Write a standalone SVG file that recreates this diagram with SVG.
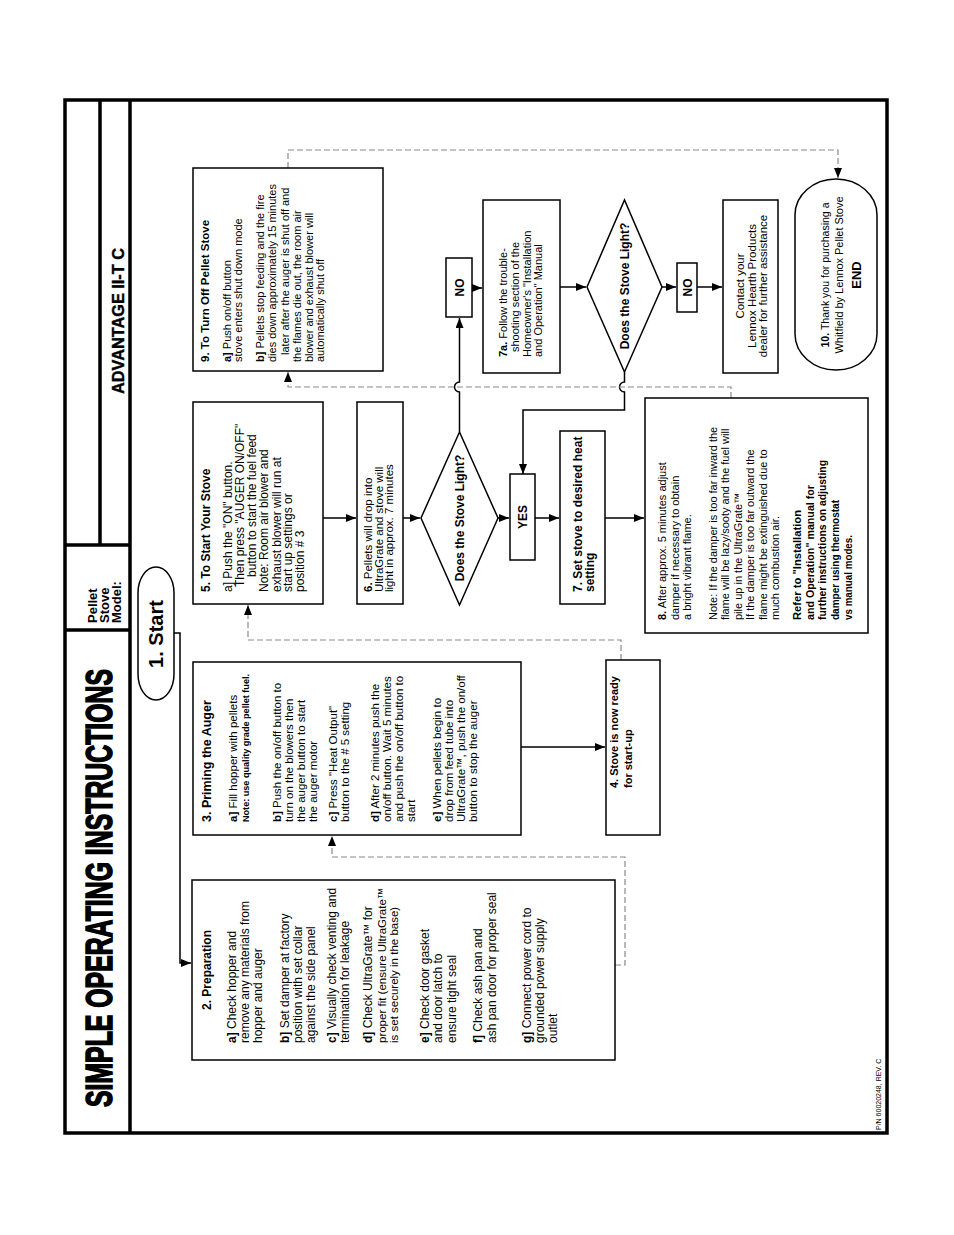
<svg xmlns="http://www.w3.org/2000/svg" width="954" height="1235" viewBox="0 0 954 1235">
<defs>
<marker id="ah" markerUnits="userSpaceOnUse" markerWidth="10" markerHeight="8" refX="10" refY="4" orient="auto">
<path d="M0,0 L10,4 L0,8 z" fill="#000"/>
</marker>
<style>
.box{fill:#fff;stroke:#000;stroke-width:1.5}
.t{font-family:"Liberation Sans",Arial,Helvetica,sans-serif;fill:#000}
.b{font-weight:bold}
.conn{fill:none;stroke:#000;stroke-width:1.5}
.dash{fill:none;stroke:#8a8a8a;stroke-width:1.2;stroke-dasharray:6 3}
.frame{fill:none;stroke:#000;stroke-width:3.5}
.mid{text-anchor:middle}
</style>
</defs>
<rect x="0" y="0" width="954" height="1235" fill="#fff"/>
<g transform="translate(0,1235) rotate(-90)">
  <g id="frame">
    <rect class="frame" x="102" y="65" width="1033" height="822"/>
    <path class="frame" d="M102,130 L1135,130 M690,100 L1135,100 M690,65 L690,130 M605,65 L605,130"/>
    <text class="t b" x="128" y="112" font-size="37" stroke="#000" stroke-width="1.6" textLength="438" lengthAdjust="spacingAndGlyphs">SIMPLE OPERATING INSTRUCTIONS</text>
    <text class="t b" x="612" y="97" font-size="13">Pellet</text>
    <text class="t b" x="612" y="109" font-size="13">Stove</text>
    <text class="t b" x="612" y="121" font-size="13">Model:</text>
    <text class="t b mid" x="914" y="124" font-size="16" stroke="#000" stroke-width="0.4" textLength="146" lengthAdjust="spacingAndGlyphs">ADVANTAGE II-T C</text>
    <text class="t" x="105" y="881" font-size="7">P/N 60020248, REV. C</text>
  </g>

  <g id="connectors">
    <path class="conn" d="M602,174 L602,180 L272,180 L272,191" marker-end="url(#ah)"/>
    <path class="dash" d="M270,615 L270,625 L378,625 L378,332 L399,332" marker-end="url(#ah)"/>
    <path class="conn" d="M488,521 L488,605" marker-end="url(#ah)"/>
    <path class="dash" d="M575,621 L595,621 L595,248 L630,248" marker-end="url(#ah)"/>
    <path class="conn" d="M717,323 L717,356" marker-end="url(#ah)"/>
    <path class="conn" d="M717,403 L717,420" marker-end="url(#ah)"/>
    <path class="conn" d="M717,498 L717,509" marker-end="url(#ah)"/>
    <path class="conn" d="M717,535 L717,559" marker-end="url(#ah)"/>
    <path class="conn" d="M717,605 L717,644" marker-end="url(#ah)"/>
    <path class="conn" d="M803,459.5 L843,459.5 A5,5 0 0 1 853,459.5 L917,459.5" marker-end="url(#ah)"/>
    <path class="conn" d="M947,472 L947,482" marker-end="url(#ah)"/>
    <path class="conn" d="M948,560 L948,586" marker-end="url(#ah)"/>
    <path class="conn" d="M948,662 L948,676" marker-end="url(#ah)"/>
    <path class="conn" d="M948,697 L948,722" marker-end="url(#ah)"/>
    <path class="conn" d="M863,624.5 L853,624.5 A5,5 0 0 0 843,624.5 L825,624.5 L825,523 L761,523" marker-end="url(#ah)"/>
    <path class="dash" d="M837,731 L848,731 L848,288 L863,288" marker-end="url(#ah)"/>
    <path class="dash" d="M1067,288 L1085,288 L1085,838 L1057,838" marker-end="url(#ah)"/>
  </g>

  <g id="start">
    <rect class="box" x="535" y="138" width="133" height="36" rx="26" ry="18"/>
    <text class="t b mid" x="601" y="163" font-size="20">1. Start</text>
  </g>

  <g id="preparation" class="t" font-size="12">
    <rect class="box" x="175" y="192" width="180" height="423"/>
    <text class="b mid" x="265" y="211">2. Preparation</text>
    <text x="192" y="236"><tspan class="b">a]</tspan>  Check hopper and</text>
    <text x="192" y="249">remove any materials from</text>
    <text x="192" y="262">hopper and auger</text>
    <text x="192" y="289"><tspan class="b">b]</tspan> Set damper at factory</text>
    <text x="192" y="302">position with set collar</text>
    <text x="192" y="315">against the side panel</text>
    <text x="192" y="336"><tspan class="b">c]</tspan> Visually check venting and</text>
    <text x="192" y="349">termination  for leakage</text>
    <text x="192" y="372"><tspan class="b">d]</tspan> Check UltraGrate™ for</text>
    <text x="192" y="386" font-size="11.5">proper fit (ensure UltraGrate™</text>
    <text x="192" y="398" font-size="11.5">is set securely in the base)</text>
    <text x="192" y="429"><tspan class="b">e]</tspan> Check door gasket</text>
    <text x="192" y="442">and door latch to</text>
    <text x="192" y="456">ensure  tight seal</text>
    <text x="192" y="482"><tspan class="b">f]</tspan> Check ash pan and</text>
    <text x="192" y="496">ash pan door for proper seal</text>
    <text x="192" y="531"><tspan class="b">g]</tspan> Connect power cord to</text>
    <text x="192" y="544">grounded power supply</text>
    <text x="192" y="557">outlet</text>
  </g>

  <g id="priming" class="t" font-size="11.5">
    <rect class="box" x="400" y="193" width="173" height="328"/>
    <text class="b" x="413" y="211" font-size="12.5">3. Priming the Auger</text>
    <text x="413" y="237"><tspan class="b">a]</tspan> Fill hopper with pellets</text>
    <text class="b" x="413" y="249" font-size="9.5" textLength="148" lengthAdjust="spacingAndGlyphs">Note: use quality grade pellet fuel.</text>
    <text x="413" y="281"><tspan class="b">b]</tspan> Push the on/off button to</text>
    <text x="413" y="293">turn on the blowers then</text>
    <text x="413" y="305">the auger button to start</text>
    <text x="413" y="317">the auger motor</text>
    <text x="413" y="337"><tspan class="b">c]</tspan> Press "Heat Output"</text>
    <text x="413" y="349">button to the # 5 setting</text>
    <text x="413" y="379"><tspan class="b">d]</tspan> After 2 minutes push the</text>
    <text x="413" y="391">on/off button. Wait 5 minutes</text>
    <text x="413" y="403">and push the on/off button to</text>
    <text x="413" y="415">start</text>
    <text x="413" y="441"><tspan class="b">e]</tspan> When pellets begin to</text>
    <text x="413" y="453">drop from feed tube into</text>
    <text x="413" y="465">UltraGrate™,  push the on/off</text>
    <text x="413" y="477">button to stop the auger</text>
  </g>

  <g id="ready" class="t b" font-size="11">
    <rect class="box" x="400" y="606" width="175" height="54"/>
    <text x="447" y="618">4. Stove is now ready</text>
    <text x="447" y="632">for start-up</text>
  </g>

  <g id="start-stove" class="t" font-size="12">
    <rect class="box" x="631" y="193" width="202" height="130"/>
    <text class="b" x="643" y="210">5. To Start Your Stove</text>
    <text x="643" y="232">a] Push the "ON" button.</text>
    <text x="648" y="244">Then press "AUGER ON/OFF"</text>
    <text x="658" y="256">button to start the fuel feed</text>
    <text x="643" y="268">Note: Room air blower and</text>
    <text x="643" y="281">exhaust blower will run at</text>
    <text x="643" y="292">start up settings or</text>
    <text x="643" y="304">position # 3</text>
  </g>

  <g id="pellets-drop" class="t" font-size="11.5">
    <rect class="box" x="631" y="357" width="202" height="46"/>
    <text x="643" y="372"><tspan class="b">6.</tspan> Pellets will drop into</text>
    <text x="643" y="382.5">UltraGrate  and stove will</text>
    <text x="643" y="393">light in approx. 7 minutes</text>
  </g>

  <g id="decision1" class="t b" font-size="12">
    <polygon class="box" points="630,459.5 717,421 803,459.5 717,498"/>
    <text class="mid" x="717" y="464">Does  the Stove Light?</text>
  </g>

  <g id="yes" class="t b" font-size="12">
    <rect class="box" x="675" y="510" width="86" height="25"/>
    <text class="mid" x="718" y="527">YES</text>
  </g>

  <g id="set-heat" class="t b" font-size="12">
    <rect class="box" x="631" y="560" width="173" height="45"/>
    <text x="643" y="582">7. Set stove to desired heat</text>
    <text x="643" y="594">setting</text>
  </g>

  <g id="adjust-damper" class="t" font-size="11">
    <rect class="box" x="602" y="645" width="235" height="223"/>
    <text x="615" y="666"><tspan class="b">8.</tspan> After  approx. 5 minutes adjust</text>
    <text x="615" y="679">damper if necessary  to obtain</text>
    <text x="615" y="691">a bright vibrant flame.</text>
    <text x="615" y="717">Note: If the damper is too far inward the</text>
    <text x="615" y="729">flame will be lazy/sooty and the fuel will</text>
    <text x="615" y="742">pile up in the UltraGrate™</text>
    <text x="615" y="754">If the damper is too far outward the</text>
    <text x="615" y="767">flame might be extinguished due to</text>
    <text x="615" y="779">much combustion air.</text>
    <text class="b" x="615" y="801" textLength="110" lengthAdjust="spacingAndGlyphs">Refer to "Installation</text>
    <text class="b" x="615" y="814" textLength="135" lengthAdjust="spacingAndGlyphs">and Operation" manual for</text>
    <text class="b" x="615" y="826" textLength="160" lengthAdjust="spacingAndGlyphs">further instructions on adjusting</text>
    <text class="b" x="615" y="839" textLength="120" lengthAdjust="spacingAndGlyphs">damper using thermostat</text>
    <text class="b" x="615" y="852" textLength="85" lengthAdjust="spacingAndGlyphs">vs manual  modes.</text>
  </g>

  <g id="turn-off" class="t" font-size="11">
    <rect class="box" x="864" y="193" width="203" height="190"/>
    <text class="b" x="873" y="209" font-size="11.5">9. To Turn Off  Pellet Stove</text>
    <text x="873" y="231"><tspan class="b">a]</tspan> Push on/off button</text>
    <text x="873" y="242">stove enters shut down mode</text>
    <text x="873" y="264"><tspan class="b">b]</tspan> Pellets stop feeding and the fire</text>
    <text x="873" y="276">dies down approximately 15 minutes</text>
    <text x="880" y="289">later after the auger is shut off and</text>
    <text x="873" y="301">the flames die out, the room air</text>
    <text x="873" y="313">blower and exhaust blower will</text>
    <text x="873" y="324">automatically shut off</text>
  </g>

  <g id="no1" class="t b" font-size="12">
    <rect class="box" x="918" y="446" width="59" height="26"/>
    <text class="mid" x="947.5" y="463.5">NO</text>
  </g>

  <g id="troubleshoot" class="t" font-size="11">
    <rect class="box" x="862" y="483" width="173" height="77"/>
    <text x="878" y="507"><tspan class="b">7a.</tspan>  Follow the trouble-</text>
    <text x="883" y="519">shooting section of the</text>
    <text x="878" y="531">Homeowner's  "Installation</text>
    <text x="878" y="542">and Operation" Manual</text>
  </g>

  <g id="decision2" class="t b" font-size="12">
    <polygon class="box" points="863,624.5 948,587 1035,624.5 948,662"/>
    <text class="mid" x="949" y="629">Does the Stove Light?</text>
  </g>

  <g id="no2" class="t b" font-size="12">
    <rect class="box" x="923" y="677" width="49" height="20"/>
    <text class="mid" x="947.5" y="691.5">NO</text>
  </g>

  <g id="contact" class="t mid" font-size="11.5">
    <rect class="box" x="862" y="723" width="173" height="55"/>
    <text x="949" y="744">Contact your</text>
    <text x="949" y="755.5">Lennox Hearth Products</text>
    <text x="949" y="767">dealer for further assistance</text>
  </g>

  <g id="end" class="t mid" font-size="10.5">
    <rect class="box" x="865" y="795" width="191" height="82" rx="36" ry="41"/>
    <text x="960" y="829" textLength="145" lengthAdjust="spacingAndGlyphs"><tspan class="b">10.</tspan> Thank you for purchasing a</text>
    <text x="960" y="843" textLength="157" lengthAdjust="spacingAndGlyphs">Whitfield by Lennox Pellet Stove</text>
    <text class="b" x="960" y="861" font-size="13">END</text>
  </g>
</g>
</svg>
